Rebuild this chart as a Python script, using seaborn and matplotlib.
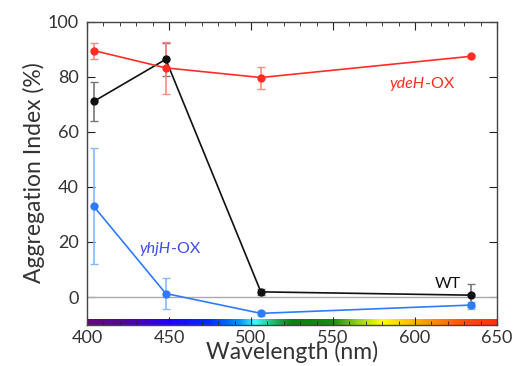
import matplotlib.pyplot as plt
import numpy as np
import pandas as pd
import seaborn as sns
from matplotlib.colors import LinearSegmentedColormap
from matplotlib.ticker import MultipleLocator

# Data
wavelength = [404, 448, 506, 634]
wt = [71.0, 86.3, 1.9, 0.7]
wt_err = [7.2, 6.0, 1.0, 4.2]
ydeh = [89.5, 83.2, 79.7, 87.4]
ydeh_err = [2.9, 9.5, 4.0, 0.6]
yhjh = [33.0, 1.3, -5.9, -2.9]
yhjh_err = [21.0, 5.8, 0.8, 1.3]

strains = ['WT', 'ydeH-OX', 'yhjH-OX']
colors = {'WT': '#111111', 'ydeH-OX': '#ff2e24', 'yhjH-OX': '#2f7bff'}
err_colors = {'WT': '#777777', 'ydeH-OX': '#ff8a80', 'yhjH-OX': '#8ab8ff'}

df = pd.DataFrame({
    'Wavelength': wavelength * 3,
    'Index': wt + ydeh + yhjh,
    'Err': wt_err + ydeh_err + yhjh_err,
    'Strain': ['WT'] * 4 + ['ydeH-OX'] * 4 + ['yhjH-OX'] * 4,
})

sns.set_style('ticks')
plt.rcParams['font.family'] = ['Lato', 'DejaVu Sans']

fig = plt.figure(figsize=(5.15, 3.66), dpi=100)
ax = fig.add_axes([0.169, 0.113, 0.796, 0.828])

# error bars first so the lines sit on top
for s in strains:
    d = df[df['Strain'] == s]
    ax.errorbar(d['Wavelength'], d['Index'], yerr=d['Err'], fmt='none',
                ecolor=err_colors[s], elinewidth=1.2, capsize=3, capthick=1.0, zorder=2)

ax.axhline(0, color='#aaaaaa', lw=1.0, zorder=1)

sns.lineplot(data=df, x='Wavelength', y='Index', hue='Strain', palette=colors,
             marker='o', markersize=6, markeredgewidth=0, linewidth=1.2,
             legend=False, ax=ax, zorder=3)

# visible spectrum strip along the bottom axis
spectrum = LinearSegmentedColormap.from_list('spec', [
    (0.00, '#650a78'), (0.12, '#4a05b0'), (0.20, '#2200ff'), (0.30, '#0030ff'),
    (0.37, '#0090ff'), (0.41, '#40f8ff'), (0.46, '#20b060'), (0.50, '#0a8010'),
    (0.60, '#1a8a10'), (0.66, '#90d020'), (0.72, '#ffff00'), (0.82, '#ffa000'),
    (0.92, '#ff5010'), (1.00, '#ff3000')])
grad = np.linspace(0, 1, 512).reshape(1, -1)
ax.imshow(grad, cmap=spectrum, aspect='auto', extent=(400, 650, -10.6, -8.2),
          clip_on=False, zorder=0.5)

ax.set_xlim(400, 650)
ax.set_ylim(-10, 100)
ax.xaxis.set_major_locator(MultipleLocator(50))
ax.xaxis.set_minor_locator(MultipleLocator(10))
ax.yaxis.set_major_locator(MultipleLocator(20))
ax.tick_params(axis='both', which='both', direction='in', top=True, right=True,
               labelsize=13, colors='#222222', labelcolor='#333333')
ax.tick_params(axis='x', which='major', length=6, pad=4)
ax.tick_params(axis='x', which='minor', length=3)
ax.tick_params(axis='y', which='major', length=6, pad=6)
for sp in ax.spines.values():
    sp.set_color('#444444')
    sp.set_linewidth(1.0)

ax.set_xlabel('Wavelength (nm)', fontsize=16.5, color='#333333', labelpad=-4)
ax.set_ylabel('Aggregation Index (%)', fontsize=16.5, color='#333333', labelpad=2)

ax.text(606, 77.5, 'ydeH', color='#ff2e24', fontsize=11.5, style='italic',
        ha='right', va='center')
ax.text(606, 77.5, '-OX', color='#ff2e24', fontsize=11.5, ha='left', va='center')
ax.text(451, 17.3, 'yhjH', color='#3f4cf0', fontsize=11.5, style='italic',
        ha='right', va='center')
ax.text(451, 17.3, '-OX', color='#3f4cf0', fontsize=11.5, ha='left', va='center')
ax.text(620, 4.7, 'WT', color='#111111', fontsize=11.5, ha='center', va='center')

fig.savefig('out.png', dpi=100)
